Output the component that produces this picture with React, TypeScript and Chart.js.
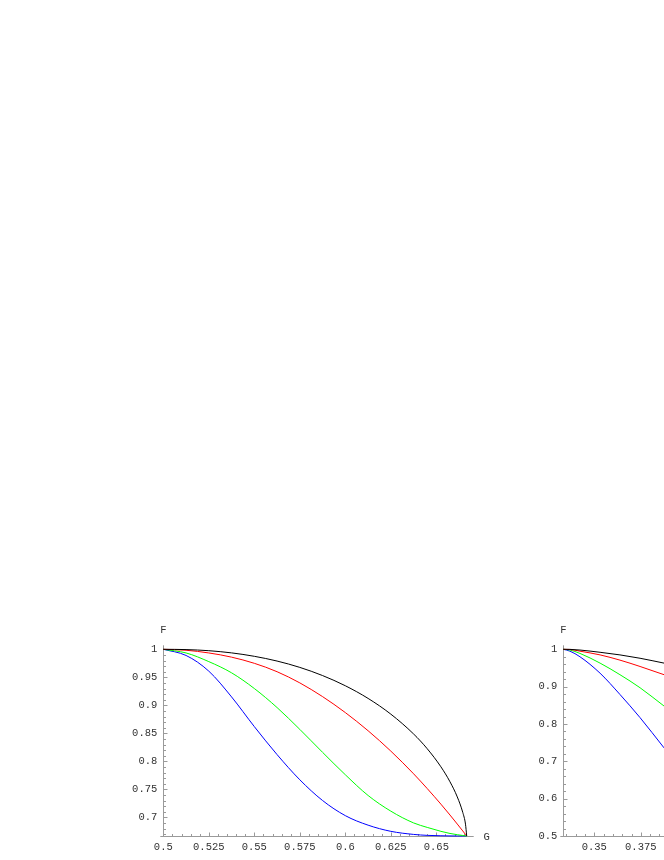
import React, { useEffect, useRef } from "react";
import { Chart, registerables } from "chart.js";

Chart.register(...registerables);

// ---------- data: left panel ----------
const LEFT_G = [0.5, 0.5125, 0.525, 0.5375, 0.55, 0.5625, 0.575, 0.5875, 0.6, 0.6125, 0.625, 0.6375, 0.645, 0.6525, 0.6575, 0.6615, 0.6645, 0.666, 0.66667];
const LEFT_BLACK = [1.0, 0.9995, 0.9975, 0.9936, 0.9875, 0.979, 0.9677, 0.9531, 0.9349, 0.9123, 0.8842, 0.8488, 0.8224, 0.7902, 0.7634, 0.7364, 0.7088, 0.6878, 0.66667];
const LEFT_RED = [1.0, 0.9983, 0.9935, 0.986, 0.975, 0.96, 0.94, 0.9155, 0.887, 0.8546, 0.8182, 0.7777, 0.7513, 0.7235, 0.7041, 0.688, 0.6757, 0.6695, 0.66667];
const LEFT_GREEN = [1.0, 0.9935, 0.978, 0.958, 0.93, 0.896, 0.857, 0.816, 0.776, 0.739, 0.711, 0.69, 0.682, 0.675, 0.6712, 0.669, 0.6676, 0.6669, 0.66667];
const LEFT_BLUE = [1.0, 0.989, 0.961, 0.915, 0.862, 0.812, 0.767, 0.73, 0.703, 0.686, 0.675, 0.6695, 0.6678, 0.6671, 0.6668, 0.66668, 0.66667, 0.66667, 0.66667];
const LEFT_X_TICKS = [0.5, 0.525, 0.55, 0.575, 0.6, 0.625, 0.65];
const LEFT_Y_TICKS = [0.7, 0.75, 0.8, 0.85, 0.9, 0.95, 1];

// ---------- data: right panel (cut off at the page edge) ----------
const RIGHT_G = [0.33333, 0.3369, 0.3423, 0.3531, 0.3638, 0.3746, 0.3875];
const RIGHT_BLACK = [1.0, 0.9998, 0.998, 0.992, 0.985, 0.976, 0.963];
const RIGHT_RED = [1.0, 0.9995, 0.995, 0.985, 0.971, 0.954, 0.932];
const RIGHT_GREEN = [1.0, 0.998, 0.989, 0.963, 0.932, 0.897, 0.848];
const RIGHT_BLUE = [1.0, 0.995, 0.98, 0.936, 0.879, 0.817, 0.736];
const RIGHT_X_TICKS = [0.35, 0.375, 0.4, 0.425, 0.45, 0.475, 0.5];
const RIGHT_Y_TICKS = [0.5, 0.6, 0.7, 0.8, 0.9, 1];

const SERIES_COLORS = ["#000000", "#ff0000", "#00ff00", "#0000ff"];
const FONT_FAMILY = "'Liberation Mono', 'DejaVu Sans Mono', monospace";
const TEXT_COLOR = "#333333";
const AXIS_COLOR = "#9a9a9a";

const fmt = (v: number) => String(+Number(v).toFixed(4));

const mmaAxes = {
  id: "mmaAxes",
  beforeDatasetsDraw(chart: any, _args: any, opts: any) {
    const { ctx, chartArea: a, scales } = chart;
    const xs = scales.x;
    const ys = scales.y;
    const yb = Math.round(a.bottom) + 0.5;
    const xl = Math.round(a.left) + 0.5;
    ctx.save();
    ctx.strokeStyle = AXIS_COLOR;
    ctx.lineWidth = 1;
    ctx.beginPath();
    ctx.moveTo(a.left - 3, yb);
    ctx.lineTo(a.right + 7, yb);
    ctx.moveTo(xl, a.bottom + 1);
    ctx.lineTo(xl, a.top - 4);
    const majorsX = xs.ticks.map((t: any) => t.value);
    const majorsY = ys.ticks.map((t: any) => t.value);
    majorsX.forEach((v: number) => {
      const px = Math.round(xs.getPixelForValue(v)) + 0.5;
      ctx.moveTo(px, yb);
      ctx.lineTo(px, yb - 4);
    });
    majorsY.forEach((v: number) => {
      const py = Math.round(ys.getPixelForValue(v)) + 0.5;
      ctx.moveTo(xl, py);
      ctx.lineTo(xl + 4, py);
    });
    const near = (arr: number[], v: number) => arr.some((m) => Math.abs(m - v) < 1e-6);
    const sx = opts.minorX;
    for (let n = Math.ceil(xs.min / sx - 1e-6); n * sx <= xs.max + 1e-9; n++) {
      const v = n * sx;
      if (near(majorsX, v)) continue;
      const px = Math.round(xs.getPixelForValue(v)) + 0.5;
      ctx.moveTo(px, yb);
      ctx.lineTo(px, yb - 2.5);
    }
    const sy = opts.minorY;
    for (let n = Math.ceil(ys.min / sy - 1e-6); n * sy <= ys.max + 1e-9; n++) {
      const v = n * sy;
      if (near(majorsY, v)) continue;
      const py = Math.round(ys.getPixelForValue(v)) + 0.5;
      ctx.moveTo(xl, py);
      ctx.lineTo(xl + 2.5, py);
    }
    ctx.stroke();
    ctx.fillStyle = TEXT_COLOR;
    ctx.font = `10.5px ${FONT_FAMILY}`;
    ctx.textAlign = "center";
    ctx.textBaseline = "middle";
    ctx.fillText(opts.yTitle, xl, a.top - 19);
    ctx.fillText(opts.xTitle, a.right + 20, yb + 1);
    ctx.restore();
  },
};

function makeConfig(
  g: number[],
  series: number[][],
  xMin: number,
  xMax: number,
  yMin: number,
  yMax: number,
  xTicks: number[],
  yTicks: number[],
  minorX: number,
  minorY: number,
  padRight: number
): any {
  const font = { family: FONT_FAMILY, size: 10.5 };
  return {
    type: "line",
    data: {
      datasets: series.map((s, i) => ({
        data: g.map((x, j) => ({ x, y: s[j] })),
        borderColor: SERIES_COLORS[i],
        borderWidth: 1,
        pointRadius: 0,
        fill: false,
        cubicInterpolationMode: "monotone",
        clip: false,
      })),
    },
    options: {
      responsive: false,
      animation: false,
      events: [],
      layout: { padding: { left: 0, top: 49.3, right: padRight, bottom: 0 } },
      plugins: {
        legend: { display: false },
        tooltip: { enabled: false },
        mmaAxes: { minorX, minorY, xTitle: "G", yTitle: "F" },
      },
      scales: {
        x: {
          type: "linear",
          min: xMin,
          max: xMax,
          afterBuildTicks: (s: any) => {
            s.ticks = xTicks.map((value) => ({ value }));
          },
          afterFit: (s: any) => {
            s.height = 24;
          },
          grid: { display: false, drawTicks: false },
          border: { display: false },
          ticks: {
            autoSkip: false,
            maxRotation: 0,
            padding: 5,
            color: TEXT_COLOR,
            font,
            callback: (v: any) => fmt(v),
          },
        },
        y: {
          type: "linear",
          min: yMin,
          max: yMax,
          afterBuildTicks: (s: any) => {
            s.ticks = yTicks.map((value) => ({ value }));
          },
          afterFit: (s: any) => {
            s.width = 163.3;
          },
          grid: { display: false, drawTicks: false },
          border: { display: false },
          ticks: {
            autoSkip: false,
            padding: 6,
            color: TEXT_COLOR,
            font,
            callback: (v: any) => fmt(v),
          },
        },
      },
    },
    plugins: [mmaAxes],
  };
}

function Panel(props: { left: number; top: number; width: number; height: number; config: any }) {
  const ref = useRef<HTMLCanvasElement | null>(null);
  useEffect(() => {
    if (!ref.current) return;
    const chart = new Chart(ref.current, props.config);
    return () => chart.destroy();
  }, []);
  return (
    <canvas
      ref={ref}
      width={props.width}
      height={props.height}
      style={{
        position: "absolute",
        left: props.left,
        top: props.top,
        width: props.width,
        height: props.height,
      }}
    />
  );
}

export default function App() {
  const leftConfig = makeConfig(
    LEFT_G,
    [LEFT_BLACK, LEFT_RED, LEFT_GREEN, LEFT_BLUE],
    0.5,
    2 / 3,
    2 / 3,
    1,
    LEFT_X_TICKS,
    LEFT_Y_TICKS,
    0.005,
    0.01,
    53.3
  );
  const rightConfig = makeConfig(
    RIGHT_G,
    [RIGHT_BLACK, RIGHT_RED, RIGHT_GREEN, RIGHT_BLUE],
    1 / 3,
    0.5,
    0.5,
    1,
    RIGHT_X_TICKS,
    RIGHT_Y_TICKS,
    0.005,
    0.02,
    46.7
  );
  return (
    <div
      style={{
        position: "fixed",
        left: 0,
        top: 0,
        width: 664,
        height: 860,
        overflow: "hidden",
        background: "#ffffff",
      }}
    >
      <Panel left={0} top={600} width={520} height={260} config={leftConfig} />
      <Panel left={400} top={600} width={520} height={260} config={rightConfig} />
    </div>
  );
}
